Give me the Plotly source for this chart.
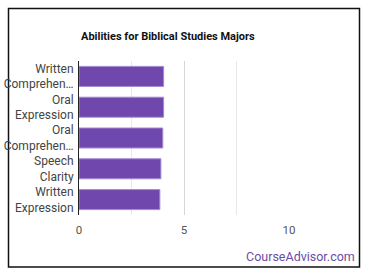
import plotly.graph_objects as go

categories = ["Written<br>Comprehen…", "Oral<br>Expression", "Oral<br>Comprehen…", "Speech<br>Clarity", "Written<br>Expression"]
values = [4.03, 4.03, 3.99, 3.9, 3.85]
x_ticks = [0, 5, 10]

W, H = 370, 278
L, R, T, B = 79, 81, 61, 63
pw, ph = W - L - R, H - T - B

def px2x(px):
    return (px - L) / pw

def py2y(py):
    return (H - B - py) / ph

fig = go.Figure(go.Bar(
    x=values, y=categories, orientation="h",
    marker=dict(color="#7047ad", line=dict(color="#a58ad3", width=1)),
    hoverinfo="skip",
))

fig.update_layout(
    width=W, height=H,
    margin=dict(l=L, r=R, t=T, b=B, autoexpand=False),
    paper_bgcolor="white", plot_bgcolor="white",
    bargap=0.35,
    showlegend=False,
    font=dict(family="Roboto", size=12, color="#444"),
    xaxis=dict(range=[0, 10], tickvals=x_ticks, showgrid=True, gridcolor="#d6d6d6",
               gridwidth=1, zeroline=False, showline=False, automargin=False,
               tickfont=dict(size=11.5, color="#555"), ticklabelstandoff=6,
               minor=dict(dtick=2.5, tick0=0, showgrid=True, gridcolor="#e8e8e8", gridwidth=1),
               fixedrange=True),
    yaxis=dict(autorange="reversed", showline=True, linecolor="#222", linewidth=1,
               showgrid=False, ticks="", ticklabelstandoff=2, automargin=False,
               tickfont=dict(size=12, color="#444"), fixedrange=True),
    shapes=[dict(type="rect", xref="paper", yref="paper",
                 x0=px2x(8.5), x1=px2x(359.5), y0=py2y(267), y1=py2y(8.5),
                 line=dict(color="#111", width=1.5), fillcolor="rgba(0,0,0,0)", layer="below")],
    annotations=[
        dict(text="<b>Abilities for Biblical Studies Majors</b>", xref="paper", yref="paper",
             x=px2x(79), y=py2y(37), xanchor="left", yanchor="middle", showarrow=False,
             font=dict(family="Roboto", size=11, color="#111")),
        dict(text="CourseAdvisor.com", xref="paper", yref="paper",
             x=px2x(357), y=py2y(256), xanchor="right", yanchor="middle", showarrow=False,
             font=dict(family="Roboto", size=12.5, color="#6b4ca6")),
    ],
)

fig.write_html("out.html")
